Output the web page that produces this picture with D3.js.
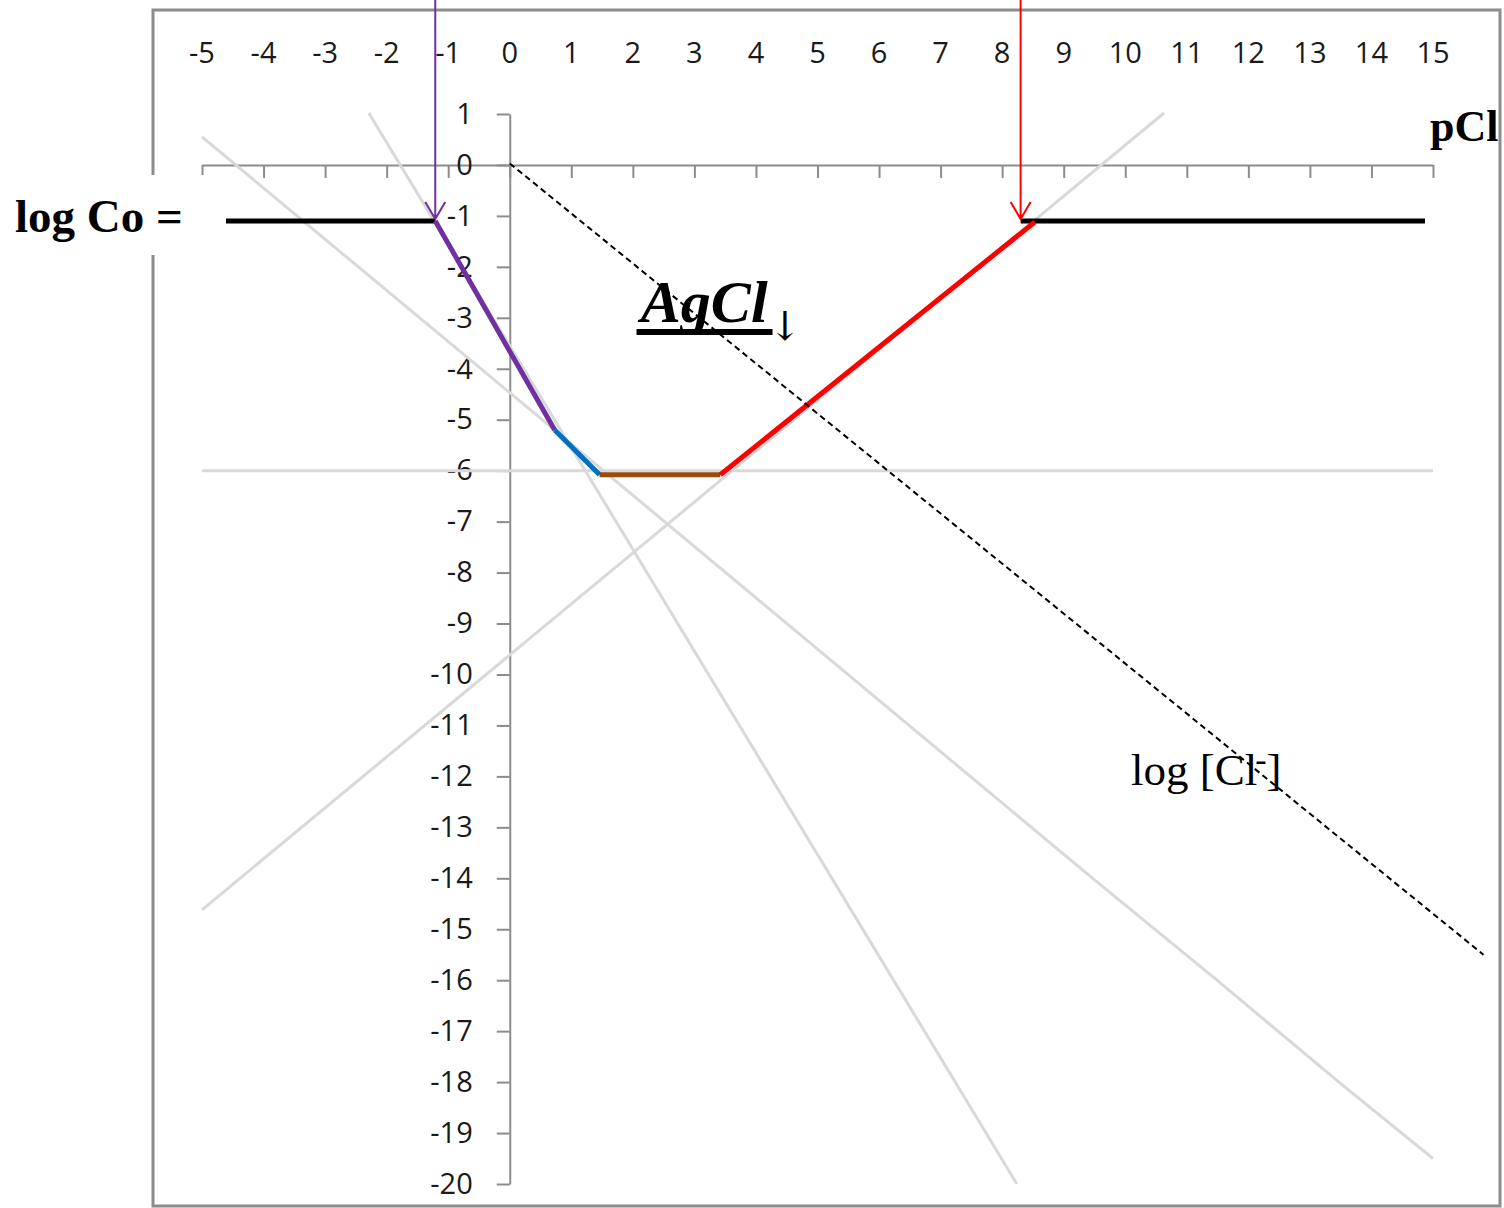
<!DOCTYPE html>
<html>
<head>
<meta charset="utf-8">
<script src="https://cdn.jsdelivr.net/npm/d3@7"></script>
<style>
	body { margin: 0; background: #fff; }
	svg { display: block; }
</style>
</head>
<body>
<div id="chart"></div>
<script>
// axis ticks
var xTicks = [-5, -4, -3, -2, -1, 0, 1, 2, 3, 4, 5, 6, 7, 8, 9, 10, 11, 12, 13, 14, 15];
var yTicks = [1, 0, -1, -2, -3, -4, -5, -6, -7, -8, -9, -10, -11, -12, -13, -14, -15, -16, -17, -18, -19, -20];

// background species lines (pCl, log C)
var agIon   = [[-5, -14.62], [10.63, 1.02]];
var agCl2   = [[-5, 0.55], [0, -4.47], [9.54, -14.07], [11.49, -16.0], [13.49, -18.02], [15, -19.5]];
var agCl3   = [[-2.29, 1.02], [8.24, -20]];
var agClAq  = [[-5, -6.0], [15, -6.0]];
var logCl   = [[0, 0.03], [15.82, -15.5]];

// solubility curve pieces
var logCo = -1.1;
var coLeft  = [[-4.61, logCo], [-1.21, logCo]];
var coRight = [[8.30, logCo], [14.87, logCo]];
var purple  = [[-1.21, -1.1], [0.73, -5.2]];
var blue    = [[0.73, -5.2], [1.46, -6.08]];
var brown   = [[1.46, -6.08], [3.42, -6.08]];
var red     = [[3.42, -6.08], [8.53, -1.12]];

// arrows pointing at the limits
var arrowPurple = -1.21;
var arrowRed = 8.30;

var W = 1504, H = 1208;
var svg = d3.select("#chart").append("svg")
	.attr("width", W)
	.attr("height", H);

var x = d3.scaleLinear().domain([-5, 15]).range([202, 1433]);
var y = d3.scaleLinear().domain([1, -20]).range([114, 1184]);

var line = d3.line()
	.x(function(d) { return x(d[0]); })
	.y(function(d) { return y(d[1]); });

// frame
svg.append("rect")
	.attr("x", 153).attr("y", 10)
	.attr("width", 1347).attr("height", 1196)
	.attr("fill", "none")
	.attr("stroke", "#8c8c8c")
	.attr("stroke-width", 3);

// x axis (line through 0, labels across the top)
var xAxis = svg.append("g")
	.attr("transform", "translate(0," + y(0) + ")")
	.call(d3.axisBottom(x).tickValues(xTicks).tickSize(13).tickSizeOuter(0).tickFormat(""));
xAxis.selectAll("path, line").attr("stroke", "#8c8c8c").attr("stroke-width", 2);

svg.append("g")
	.selectAll("text")
	.data(xTicks)
	.enter()
		.append("text")
		.attr("x", function(d) { return x(d); })
		.attr("y", 63)
		.attr("text-anchor", "middle")
		.attr("font-family", "'Open Sans', sans-serif")
		.attr("font-size", 29)
		.attr("fill", "#1a1a1a")
		.text(function(d) { return String(d); });

// y axis
var yAxis = svg.append("g")
	.attr("transform", "translate(" + x(0) + ",0)")
	.call(d3.axisLeft(y).tickValues(yTicks).tickSize(13).tickSizeOuter(0).tickPadding(24)
		.tickFormat(function(d) { return String(d); }));
yAxis.selectAll("path, line").attr("stroke", "#8c8c8c").attr("stroke-width", 2);
yAxis.selectAll("text")
	.attr("font-family", "'Open Sans', sans-serif")
	.attr("font-size", 29)
	.attr("fill", "#1a1a1a");

// grey species lines
svg.append("g")
	.selectAll("path")
	.data([agIon, agCl2, agCl3, agClAq])
	.enter()
		.append("path")
		.attr("d", line)
		.attr("fill", "none")
		.attr("stroke", "#d9d9d9")
		.attr("stroke-width", 3);

// labels
svg.append("rect")
	.attr("x", 0).attr("y", 175)
	.attr("width", 205).attr("height", 80)
	.attr("fill", "#fff");
svg.append("text")
	.attr("x", 15)
	.attr("y", 232)
	.attr("font-family", "'Liberation Serif', 'Times New Roman', serif")
	.attr("font-weight", "bold")
	.attr("font-size", 47)
	.text("log Co =");

svg.append("text")
	.attr("x", 1430)
	.attr("y", 141)
	.attr("font-family", "'Liberation Serif', 'Times New Roman', serif")
	.attr("font-weight", "bold")
	.attr("font-size", 44)
	.text("pCl");

var agcl = svg.append("g");
agcl.append("rect")
	.attr("x", x(2.06)).attr("y", 329)
	.attr("width", 136).attr("height", 6)
	.attr("fill", "#000");
agcl.append("text")
	.attr("x", x(2.13))
	.attr("y", 322)
	.attr("font-family", "'Liberation Serif', 'Times New Roman', serif")
	.attr("font-weight", "bold")
	.attr("font-style", "italic")
	.attr("font-size", 60)
	.text("AgCl");
agcl.append("text")
	.attr("x", x(4.2))
	.attr("y", 340)
	.attr("font-family", "'DejaVu Serif', serif")
	.attr("font-size", 40)
	.text("\u2193");

var clLabel = svg.append("text")
	.attr("x", 1131)
	.attr("y", 785)
	.attr("font-family", "'Liberation Serif', 'Times New Roman', serif")
	.attr("font-size", 45);
clLabel.append("tspan").text("log [Cl");
clLabel.append("tspan").attr("font-size", 34).attr("dy", -14).attr("dx", -2).text("-");
clLabel.append("tspan").attr("dy", 14).text("]");

// coloured solubility curve
var curve = [
	{ d: coLeft,  c: "#000000" },
	{ d: coRight, c: "#000000" },
	{ d: purple,  c: "#7030a0" },
	{ d: blue,    c: "#0070c0" },
	{ d: brown,   c: "#9c4a0a" },
	{ d: red,     c: "#ff0000" }
];
svg.append("g")
	.selectAll("path")
	.data(curve)
	.enter()
		.append("path")
		.attr("d", function(s) { return line(s.d); })
		.attr("fill", "none")
		.attr("stroke", function(s) { return s.c; })
		.attr("stroke-width", 5)
		.attr("stroke-linecap", "butt");

// log [Cl-] dashed line
svg.append("path")
	.attr("d", line(logCl))
	.attr("fill", "none")
	.attr("stroke", "#000")
	.attr("stroke-width", 2)
	.attr("stroke-dasharray", "6,4");

// arrows from the top
function arrow(px, color)
{
	var ax = x(px), tip = y(logCo) - 2;
	svg.append("path")
		.attr("d", "M" + ax + ",0 V" + tip +
			" M" + (ax - 10) + "," + (tip - 17) + " L" + ax + "," + tip + " L" + (ax + 10) + "," + (tip - 17))
		.attr("fill", "none")
		.attr("stroke", color)
		.attr("stroke-width", 2);
}
arrow(arrowPurple, "#7030a0");
arrow(arrowRed, "#ff0000");
</script>
</body>
</html>
